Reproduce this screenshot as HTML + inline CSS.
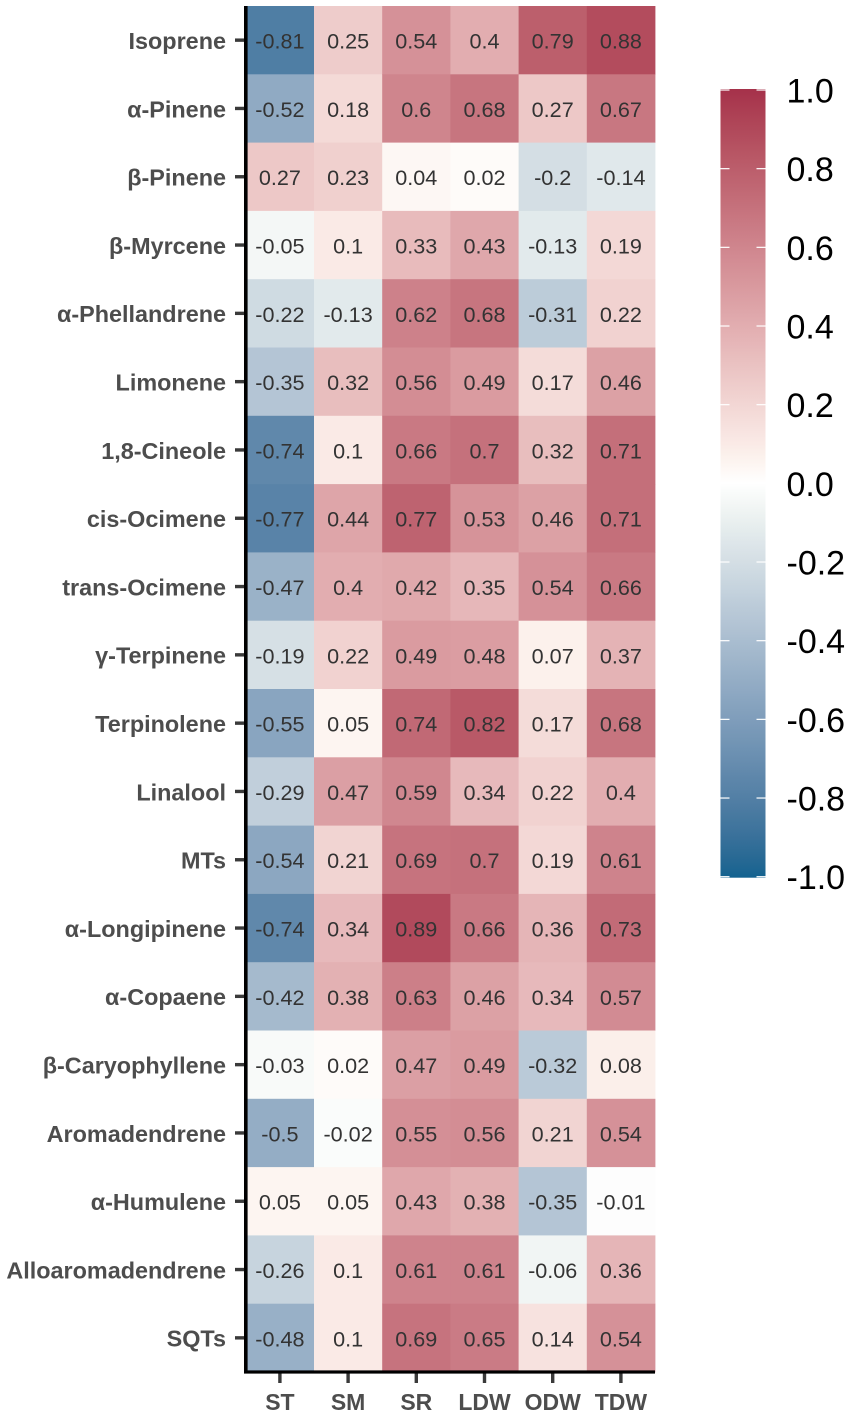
<!DOCTYPE html>
<html>
<head>
<meta charset="utf-8">
<title>Correlation heatmap</title>
<style>
html,body{margin:0;padding:0;background:#fff;}
svg{display:block;font-family:"Liberation Sans",sans-serif;}
</style>
</head>
<body>
<svg id="chart" xmlns="http://www.w3.org/2000/svg" width="851" height="1416" viewBox="0 0 851 1416">
<defs><linearGradient id="bar-gradient" x1="0" y1="0" x2="0" y2="1"></linearGradient></defs>
</svg>
<script>
const rowLabels = ["Isoprene","α-Pinene","β-Pinene","β-Myrcene","α-Phellandrene","Limonene","1,8-Cineole","cis-Ocimene","trans-Ocimene","γ-Terpinene","Terpinolene","Linalool","MTs","α-Longipinene","α-Copaene","β-Caryophyllene","Aromadendrene","α-Humulene","Alloaromadendrene","SQTs"];
const colLabels = ["ST","SM","SR","LDW","ODW","TDW"];
const seriesST = ["-0.81","-0.52","0.27","-0.05","-0.22","-0.35","-0.74","-0.77","-0.47","-0.19","-0.55","-0.29","-0.54","-0.74","-0.42","-0.03","-0.5","0.05","-0.26","-0.48"];
const seriesSM = ["0.25","0.18","0.23","0.1","-0.13","0.32","0.1","0.44","0.4","0.22","0.05","0.47","0.21","0.34","0.38","0.02","-0.02","0.05","0.1","0.1"];
const seriesSR = ["0.54","0.6","0.04","0.33","0.62","0.56","0.66","0.77","0.42","0.49","0.74","0.59","0.69","0.89","0.63","0.47","0.55","0.43","0.61","0.69"];
const seriesLDW = ["0.4","0.68","0.02","0.43","0.68","0.49","0.7","0.53","0.35","0.48","0.82","0.34","0.7","0.66","0.46","0.49","0.56","0.38","0.61","0.65"];
const seriesODW = ["0.79","0.27","-0.2","-0.13","-0.31","0.17","0.32","0.46","0.54","0.07","0.17","0.22","0.19","0.36","0.34","-0.32","0.21","-0.35","-0.06","0.14"];
const seriesTDW = ["0.88","0.67","-0.14","0.19","0.22","0.46","0.71","0.71","0.66","0.37","0.68","0.4","0.61","0.73","0.57","0.08","0.54","-0.01","0.36","0.54"];
const legendTicks = ["1.0","0.8","0.6","0.4","0.2","0.0","-0.2","-0.4","-0.6","-0.8","-1.0"];

const svg = document.getElementById('chart');
const NS = 'http://www.w3.org/2000/svg';
const plot = {left:245.8, right:655, top:6, bottom:1372};
const bar = {left:720.5, right:765.5, top:90, bottom:876.7};
const allSeries = [seriesST,seriesSM,seriesSR,seriesLDW,seriesODW,seriesTDW];
const colW = (plot.right-plot.left)/colLabels.length;
const rowH = (plot.bottom-plot.top)/rowLabels.length;
const xPos = i => plot.left + colW*i;
const yPos = i => plot.top + rowH*i;
const barY = v => bar.top + (1-v)/2*(bar.bottom-bar.top);

function hexToLab(h){
  const c=[1,3,5].map(i=>parseInt(h.substr(i,2),16)/255).map(u=>u>0.04045?Math.pow((u+0.055)/1.055,2.4):u/12.92);
  const X=(0.4124*c[0]+0.3576*c[1]+0.1805*c[2])/0.95047,Y=0.2126*c[0]+0.7152*c[1]+0.0722*c[2],Z=(0.0193*c[0]+0.1192*c[1]+0.9505*c[2])/1.08883;
  const f=t=>t>0.008856?Math.cbrt(t):7.787*t+16/116;
  return [116*f(Y)-16,500*(f(X)-f(Y)),200*(f(Y)-f(Z))];
}
function labToCss(l){
  const fy=(l[0]+16)/116,fx=fy+l[1]/500,fz=fy-l[2]/200;
  const g=t=>t*t*t>0.008856?t*t*t:(t-16/116)/7.787;
  const X=g(fx)*0.95047,Y=g(fy),Z=g(fz)*1.08883;
  const lin=[3.2406*X-1.5372*Y-0.4986*Z,-0.9689*X+1.8758*Y+0.0415*Z,0.0557*X-0.2040*Y+1.0570*Z];
  const out=lin.map(u=>{u=Math.max(0,Math.min(1,u));return Math.round(255*(u>0.0031308?1.055*Math.pow(u,1/2.4)-0.055:12.92*u));});
  return 'rgb('+out.join(',')+')';
}
const lowLab = hexToLab('#12628f'), midLab = hexToLab('#ffffff'), highLab = hexToLab('#a5314a');
function color(v){
  const t=Math.min(1,Math.abs(v)), end=v<0?lowLab:highLab;
  const lab=midLab.map((m,i)=>m+(end[i]-m)*t);
  // slight warm/green tint of the palest tones
  const tint=t<0.07?t/0.07:Math.max(0,(0.6-t)/0.53);
  lab[1]+=(v<0?-1.5:-0.5)*tint;
  lab[2]+=(v<0?2.5:2.8)*tint;
  return labToCss(lab);
}
function make(tag,attrs,parent){
  const el=document.createElementNS(NS,tag);
  for(const k in attrs) el.setAttribute(k,attrs[k]);
  (parent||svg).appendChild(el);
  return el;
}

// heatmap cells and printed values
allSeries.forEach((series,c)=>{
  series.forEach((raw,r)=>{
    const v=parseFloat(raw);
    const cell=make('rect',{x:xPos(c),y:yPos(r),width:colW+0.4,height:rowH+0.4,fill:color(v)});
    
    
  });
});
allSeries.forEach((series,c)=>{
  series.forEach((raw,r)=>{
    const t=make('text',{x:xPos(c)+colW/2,y:yPos(r)+rowH/2+8.4,'text-anchor':'middle','font-size':21.6,fill:'#333333'});
    t.textContent=raw;
    
    
  });
});

// y axis ticks and labels
rowLabels.forEach((label,r)=>{
  const yc=yPos(r)+rowH/2;
  const tick=make('rect',{x:235,y:yc-1.7,width:10,height:3.4,fill:'#3a3a3a'});
  
  
  const t=make('text',{x:226,y:yc+8.8,'text-anchor':'end','font-size':23.4,'font-weight':'bold',fill:'#4d4d4d'});
  t.textContent=label;
  
  
});

// x axis ticks and labels
colLabels.forEach((label,c)=>{
  const xc=xPos(c)+colW/2;
  const tick=make('rect',{x:xc-1.7,y:1372,width:3.4,height:11,fill:'#3a3a3a'});
  
  
  const t=make('text',{x:xc,y:1410,'text-anchor':'middle','font-size':23,'font-weight':'bold',fill:'#4d4d4d'});
  t.textContent=label;
  
  
});

// axis lines
const yLine=make('rect',{x:244,y:plot.top,width:3.6,height:plot.bottom-plot.top+1.5,fill:'#000000'});


const xLine=make('rect',{x:244,y:1370.4,width:plot.right-244,height:3.2,fill:'#000000'});



// colour legend
const grad=document.getElementById('bar-gradient');
for(let i=0;i<=80;i++){
  const v=1-i/40;
  make('stop',{offset:(i/80),'stop-color':color(v)},grad);
}
const barRect=make('rect',{x:bar.left,y:bar.top-1,width:bar.right-bar.left,height:bar.bottom-bar.top+2,fill:'url(#bar-gradient)'});


legendTicks.forEach(label=>{
  const v=parseFloat(label), y=barY(v);
  const a=make('rect',{x:bar.left,y:y-0.6,width:9,height:1.2,fill:'#ffffff'});
  
  
  const b=make('rect',{x:bar.right-9,y:y-0.6,width:9,height:1.2,fill:'#ffffff'});
  
  
  const t=make('text',{x:786.5,y:y+12.5,'font-size':34,fill:'#000000'});
  t.textContent=label;
  
  
});
</script>
</body>
</html>
